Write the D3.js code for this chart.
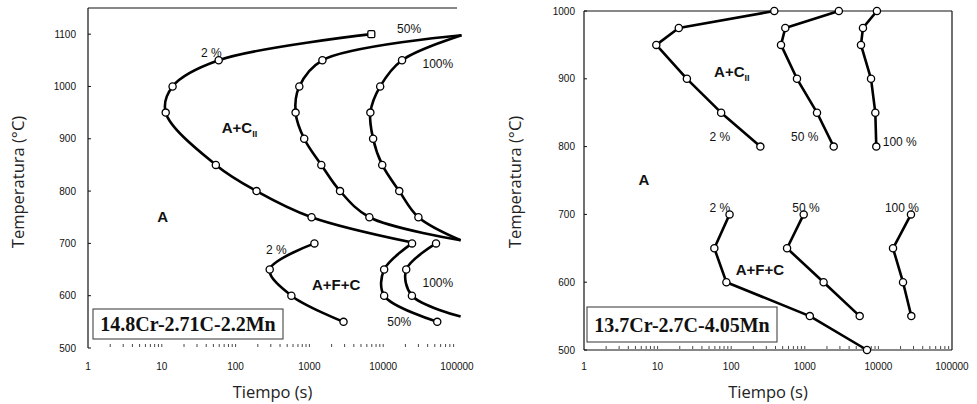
<!DOCTYPE html>
<html>
<head>
<meta charset="utf-8">
<script src="https://cdn.jsdelivr.net/npm/d3@7"></script>
<style>
  body { margin: 0; background: #fff; }
  text { font-family: "Liberation Sans", Arial, sans-serif; }
</style>
</head>
<body>
<div id="chart"></div>
<script>
// time axis (log) and temperature ticks
var timeTicks = [1, 10, 100, 1000, 10000, 100000];
var leftTempTicks = [500, 600, 700, 800, 900, 1000, 1100];
var rightTempTicks = [500, 600, 700, 800, 900, 1000];

// [time (s), temp (C), marker]  marker: undefined = circle, "sq" = square, "none" = no marker
// left panel: 14.8Cr-2.71C-2.2Mn
var leftUp2 = [[6900, 1100, "sq"], [59, 1050], [14, 1000], [11.3, 950], [54, 850], [192, 800], [1070, 750], [24000, 702, "none"]];
var leftUp50 = [[115000, 1098, "none"], [1500, 1050], [730, 1000], [650, 950], [850, 900], [1450, 850], [2600, 800], [6500, 750], [112000, 706, "none"]];
var leftUp100 = [[115000, 1098, "none"], [18000, 1050], [9100, 1000], [6700, 950], [7300, 900], [9700, 850], [16500, 800], [30000, 750], [112000, 706, "none"]];
var leftLow2 = [[1170, 700], [290, 650], [570, 600], [2900, 550]];
var leftLow50 = [[24600, 700], [10300, 650], [10300, 600], [54000, 550]];
var leftLow100 = [[52000, 700], [20500, 650], [24500, 600], [112000, 560, "none"]];

// right panel: 13.7Cr-2.7C-4.05Mn
var rightUp2 = [[385, 1000], [19.4, 975], [9.6, 950], [25, 900], [73, 850], [249, 800]];
var rightUp50 = [[2900, 1000], [543, 975], [475, 950], [783, 900], [1465, 850], [2470, 800]];
var rightUp100 = [[9550, 1000], [6170, 975], [5800, 950], [7940, 900], [9080, 850], [9360, 800]];
var rightLow2 = [[95, 700], [59, 650], [86, 600], [1170, 550], [7000, 500]];
var rightLow50 = [[966, 700], [574, 650], [1800, 600], [5570, 550]];
var rightLow100 = [[27700, 700], [15800, 650], [21600, 600], [28000, 550]];

// percentage labels [time, temp, text]
var leftNotes = [[22400, 1110, "50%"], [47, 1064, "2 %"], [55000, 1043, "100%"], [357, 687, "2 %"], [55000, 624, "100%"], [16500, 550, "50%"]];
var rightNotes = [[70, 814, "2 %"], [1000, 814, "50 %"], [19500, 807, "100 %"], [70, 709, "2 %"], [1040, 709, "50 %"], [20900, 709, "100 %"]];

// phase region labels [time, temp, text, subscript]
var leftRegions = [[10.3, 750, "A"], [113, 922, "A+C", "II"], [2300, 620, "A+F+C"]];
var rightRegions = [[6.5, 751, "A"], [102, 911, "A+C", "II"], [246, 618, "A+F+C"]];

var svg = d3.select("#chart").append("svg")
    .attr("width", 977)
    .attr("height", 404);

function drawPanel(cfg) {
    var x = d3.scaleLog().domain([1, 100000]).range([cfg.left, cfg.right]);
    var y = d3.scaleLinear().domain(cfg.yDomain).range([cfg.bottom, cfg.top]);
    var g = svg.append("g");

    // frame
    g.append("line").attr("x1", cfg.left).attr("x2", cfg.left).attr("y1", cfg.top).attr("y2", cfg.bottom)
        .attr("stroke", "#111").attr("stroke-width", 1.2);
    g.append("line").attr("x1", cfg.left).attr("x2", cfg.right).attr("y1", cfg.top).attr("y2", cfg.top)
        .attr("stroke", "#111").attr("stroke-width", 1.2);
    if (cfg.fullBox) {
        g.append("line").attr("x1", cfg.right).attr("x2", cfg.right).attr("y1", cfg.top).attr("y2", cfg.bottom)
            .attr("stroke", "#111").attr("stroke-width", 1.2);
        g.append("line").attr("x1", cfg.left).attr("x2", cfg.right).attr("y1", cfg.bottom).attr("y2", cfg.bottom)
            .attr("stroke", "#111").attr("stroke-width", 1.2);
    }

    // y axis ticks + labels
    g.selectAll(".yt").data(cfg.yTicks).enter().append("line")
        .attr("x1", cfg.left).attr("x2", cfg.left + 3)
        .attr("y1", function(d) { return y(d); }).attr("y2", function(d) { return y(d); })
        .attr("stroke", "#111");
    g.selectAll(".yl").data(cfg.yTicks).enter().append("text")
        .attr("x", cfg.left - cfg.yLabelGap)
        .attr("y", function(d) { return y(d); })
        .attr("dy", "0.35em")
        .attr("text-anchor", "end")
        .style("font-size", "10px")
        .attr("fill", "#111")
        .text(function(d) { return d; });

    // x minor ticks (pointing up into the plot)
    var minor = [];
    for (var e = 0; e < 5; e++) {
        for (var m = 1; m < 10; m++) {
            if (e === 0 && m === 1) continue;
            minor.push(m * Math.pow(10, e));
        }
    }
    g.selectAll(".xt").data(minor).enter().append("line")
        .attr("x1", function(d) { return x(d); }).attr("x2", function(d) { return x(d); })
        .attr("y1", cfg.bottom - 1).attr("y2", cfg.bottom - 4)
        .attr("stroke", "#333").attr("stroke-width", 0.9);

    g.selectAll(".xl").data(timeTicks).enter().append("text")
        .attr("x", function(d) { return x(d); })
        .attr("y", 370)
        .attr("text-anchor", "middle")
        .style("font-size", "10px")
        .attr("fill", "#111")
        .text(function(d) { return d; });

    // axis titles
    g.append("text")
        .attr("x", (cfg.left + cfg.right) / 2)
        .attr("y", 398)
        .attr("text-anchor", "middle")
        .style("font-family", "'Open Sans', sans-serif")
        .style("font-size", "16.5px")
        .attr("fill", "#222")
        .text("Tiempo (s)");
    g.append("text")
        .attr("transform", "translate(" + cfg.titleX + "," + 182 + ") rotate(-90)")
        .attr("text-anchor", "middle")
        .attr("dy", "0.35em")
        .style("font-family", "'Open Sans', sans-serif")
        .style("font-size", "16.5px")
        .attr("fill", "#222")
        .text("Temperatura (°C)");

    // curves
    var line = d3.line()
        .x(function(d) { return x(d[0]); })
        .y(function(d) { return y(d[1]); })
        .curve(cfg.curve);

    cfg.series.forEach(function(s) {
        g.append("path")
            .datum(s)
            .attr("d", line)
            .attr("fill", "none")
            .attr("stroke", "#000")
            .attr("stroke-width", 2.6)
            .attr("stroke-linejoin", "round");
    });

    cfg.series.forEach(function(s) {
        var pts = s.filter(function(d) { return d[2] !== "none"; });
        g.selectAll(null).data(pts.filter(function(d) { return d[2] !== "sq"; })).enter().append("circle")
            .attr("cx", function(d) { return x(d[0]); })
            .attr("cy", function(d) { return y(d[1]); })
            .attr("r", 3.6)
            .attr("fill", "#fff")
            .attr("stroke", "#000")
            .attr("stroke-width", 1.3);
        g.selectAll(null).data(pts.filter(function(d) { return d[2] === "sq"; })).enter().append("rect")
            .attr("x", function(d) { return x(d[0]) - 3.5; })
            .attr("y", function(d) { return y(d[1]) - 3.5; })
            .attr("width", 7).attr("height", 7).attr("rx", 1.5)
            .attr("fill", "#fff")
            .attr("stroke", "#000")
            .attr("stroke-width", 1.3);
    });

    // percentage notes
    g.selectAll(".note").data(cfg.notes).enter().append("text")
        .attr("x", function(d) { return x(d[0]); })
        .attr("y", function(d) { return y(d[1]); })
        .attr("dy", "0.35em")
        .attr("text-anchor", "middle")
        .style("font-size", "12px")
        .attr("fill", "#111")
        .text(function(d) { return d[2]; });

    // phase regions
    cfg.regions.forEach(function(r) {
        var tx = g.append("text")
            .attr("x", x(r[0])).attr("y", y(r[1]))
            .attr("dy", "0.35em")
            .attr("text-anchor", "middle")
            .style("font-size", "15px")
            .style("font-weight", "bold")
            .attr("fill", "#111");
        tx.append("tspan").text(r[2]);
        if (r[3]) {
            tx.append("tspan").attr("dy", "4").style("font-size", "9px").text(r[3]);
        }
    });

    // composition box
    g.append("rect")
        .attr("x", cfg.box[0]).attr("y", cfg.box[1])
        .attr("width", cfg.box[2]).attr("height", cfg.box[3])
        .attr("fill", "#fff")
        .attr("stroke", "#333")
        .attr("stroke-width", 1);
    g.append("text")
        .attr("x", cfg.box[0] + cfg.box[2] / 2)
        .attr("y", cfg.box[1] + cfg.box[3] / 2)
        .attr("dy", "0.35em")
        .attr("text-anchor", "middle")
        .style("font-family", "'Liberation Serif', 'Times New Roman', serif")
        .style("font-size", "20px")
        .style("font-weight", "bold")
        .attr("fill", "#111")
        .text(cfg.alloy);
}

drawPanel({
    left: 88, right: 457, top: 8, bottom: 348,
    yDomain: [500, 1150], yTicks: leftTempTicks, yLabelGap: 12,
    fullBox: false, titleX: 18,
    curve: d3.curveCatmullRom.alpha(0.5),
    series: [leftUp2, leftUp50, leftUp100, leftLow2, leftLow50, leftLow100],
    notes: leftNotes,
    regions: leftRegions,
    box: [93, 309, 190, 30],
    alloy: "14.8Cr-2.71C-2.2Mn"
});

drawPanel({
    left: 584, right: 952, top: 11, bottom: 350,
    yDomain: [500, 1000], yTicks: rightTempTicks, yLabelGap: 9,
    fullBox: true, titleX: 515,
    curve: d3.curveLinear,
    series: [rightUp2, rightUp50, rightUp100, rightLow2, rightLow50, rightLow100],
    notes: rightNotes,
    regions: rightRegions,
    box: [587, 307, 190, 35],
    alloy: "13.7Cr-2.7C-4.05Mn"
});
</script>
</body>
</html>
